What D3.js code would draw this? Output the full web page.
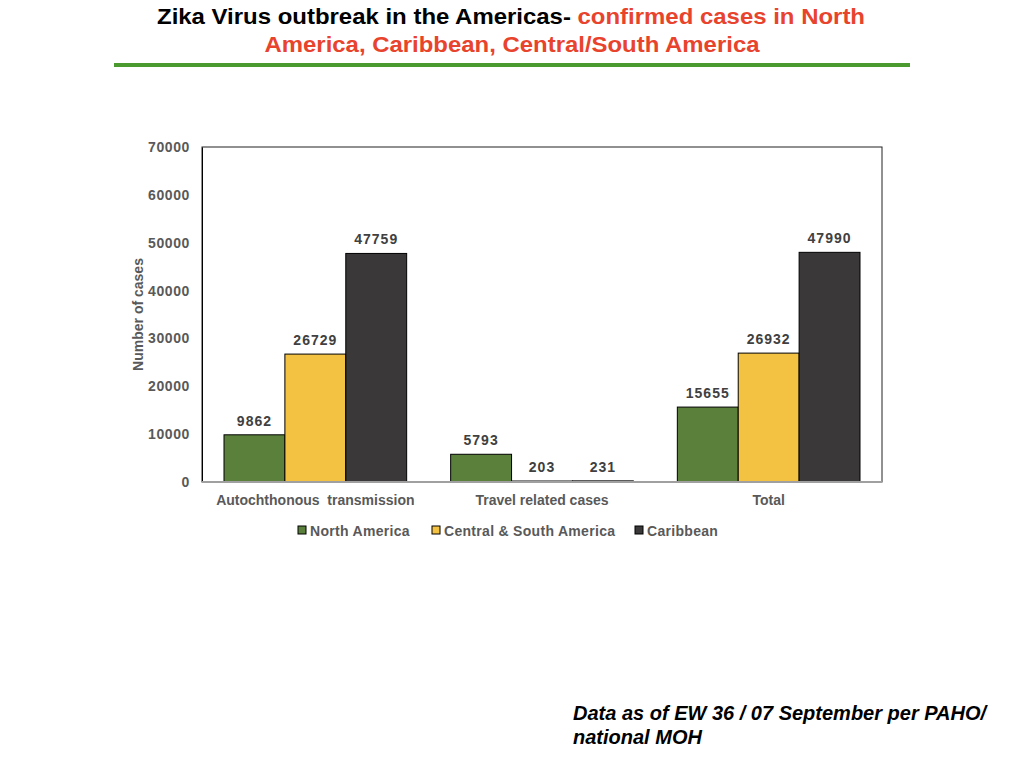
<!DOCTYPE html>
<html>
<head>
<meta charset="utf-8" />
<title>Zika Virus outbreak in the Americas</title>
<script src="https://d3js.org/d3.v7.min.js"></script>
<style>
html, body { margin: 0; padding: 0; background: #fff; }
svg { display: block; font-family: "Liberation Sans", Arial, Helvetica, sans-serif; }
.tick text { font-size: 14px; font-weight: bold; fill: #595959; letter-spacing: 0.6px; }
.cat { font-size: 14px; font-weight: bold; fill: #595959; }
.val { font-size: 14px; font-weight: bold; fill: #404040; letter-spacing: 1px; }
.leg { font-size: 14px; font-weight: bold; fill: #595959; letter-spacing: 0.3px; }
</style>
</head>
<body>
<script>
const categories = ['Autochthonous  transmission', 'Travel related cases', 'Total'];
const seriesNames = ['North America', 'Central & South America', 'Caribbean'];
const northAmerica = [9862, 5793, 15655];
const centralSouth = [26729, 203, 26932];
const caribbean = [47759, 231, 47990];
const yTicks = [0, 10000, 20000, 30000, 40000, 50000, 60000, 70000];
const colors = ['#5b803c', '#f4c242', '#3a3839'];

const series = [northAmerica, centralSouth, caribbean];
const width = 1024, height = 768;
const margin = {top: 147, right: 142, bottom: 286, left: 202};

const svg = d3.select('body').append('svg').attr('width', width).attr('height', height);

// title
const title = svg.append('g');
title.append('text').attr('x', 511).attr('y', 24).attr('text-anchor', 'middle')
  .attr('textLength', 708).attr('lengthAdjust', 'spacingAndGlyphs')
  .style('font-size', '22px').style('font-weight', 'bold')
  .call(t => {
    t.append('tspan').attr('fill', '#000').text('Zika Virus outbreak in the Americas- ');
    t.append('tspan').attr('fill', '#e8432d').text('confirmed cases in North');
  });
title.append('text').attr('x', 512).attr('y', 52).attr('text-anchor', 'middle')
  .attr('textLength', 495).attr('lengthAdjust', 'spacingAndGlyphs')
  .attr('fill', '#e8432d').style('font-size', '22px').style('font-weight', 'bold')
  .text('America, Caribbean, Central/South America');
svg.append('line').attr('x1', 114).attr('x2', 910).attr('y1', 65).attr('y2', 65)
  .attr('stroke', '#4a9a30').attr('stroke-width', 4);

const x0 = d3.scaleBand().domain(categories).range([margin.left, width - margin.right]).paddingInner(0).paddingOuter(0);
const x1 = d3.scaleBand().domain(d3.range(seriesNames.length)).range([22, x0.bandwidth() - 22]);
const y = d3.scaleLinear().domain([0, 70000]).range([height - margin.bottom, margin.top]);

// frame
svg.append('rect').attr('x', margin.left).attr('y', margin.top)
  .attr('width', width - margin.left - margin.right).attr('height', height - margin.top - margin.bottom)
  .attr('fill', 'none').attr('stroke', '#222').attr('stroke-width', 1);

// bars
const groups = svg.selectAll('g.grp').data(categories).enter().append('g')
  .attr('class', 'grp').attr('transform', d => 'translate(' + x0(d) + ',0)');

groups.selectAll('rect').data((d, i) => series.map((s, j) => ({j: j, v: s[i]}))).enter()
  .append('rect')
  .attr('x', d => x1(d.j)).attr('width', x1.bandwidth())
  .attr('y', d => y(d.v)).attr('height', d => y(0) - y(d.v))
  .attr('fill', d => colors[d.j]).attr('stroke', '#000').attr('stroke-width', 1);

groups.selectAll('text.val').data((d, i) => series.map((s, j) => ({j: j, v: s[i]}))).enter()
  .append('text').attr('class', 'val').attr('text-anchor', 'middle')
  .attr('x', d => x1(d.j) + x1.bandwidth() / 2).attr('y', d => y(d.v) - 9)
  .text(d => d.v);

// axes
const yAxis = d3.axisLeft(y).tickValues(yTicks).tickSize(0).tickPadding(12).tickFormat(d3.format('d'));
svg.append('g').attr('transform', 'translate(' + margin.left + ',0)').call(yAxis)
  .call(g => g.select('.domain').attr('stroke', '#000'));

svg.append('line').attr('x1', margin.left).attr('x2', width - margin.right)
  .attr('y1', y(0)).attr('y2', y(0)).attr('stroke', '#a0a0a0').attr('stroke-width', 2);

svg.selectAll('text.cat').data(categories).enter().append('text').attr('class', 'cat')
  .attr('text-anchor', 'middle').attr('x', d => x0(d) + x0.bandwidth() / 2).attr('y', 505)
  .style('white-space', 'pre').attr('xml:space', 'preserve')
  .text(d => d);

svg.append('text').attr('class', 'cat').attr('text-anchor', 'middle')
  .attr('transform', 'translate(143,' + ((margin.top + height - margin.bottom) / 2 ) + ') rotate(-90)')
  .text('Number of cases');

// legend
const legX = [298, 432, 635];
const leg = svg.selectAll('g.leg').data(seriesNames).enter().append('g')
  .attr('transform', (d, i) => 'translate(' + legX[i] + ',531)');
leg.append('rect').attr('x', 0).attr('y', -5).attr('width', 8).attr('height', 8)
  .attr('fill', (d, i) => colors[i]).attr('stroke', '#000').attr('stroke-width', 1);
leg.append('text').attr('class', 'leg').attr('x', 12).attr('y', 5).text(d => d);

// footnote
const foot = svg.append('text').attr('x', 573).style('font-size', '20px')
  .style('font-weight', 'bold').style('font-style', 'italic').attr('fill', '#000');
foot.append('tspan').attr('x', 573).attr('y', 720).text('Data as of EW 36 / 07 September per PAHO/');
foot.append('tspan').attr('x', 573).attr('y', 744).text('national MOH');
</script>
</body>
</html>
